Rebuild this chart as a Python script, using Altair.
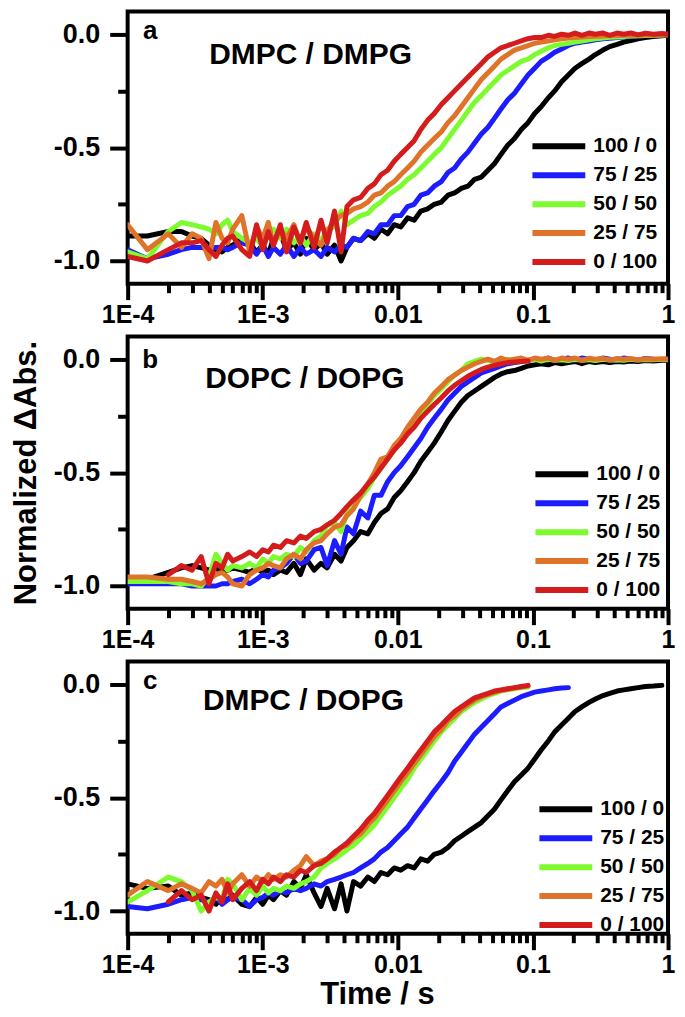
import altair as alt
import pandas as pd

# ---------------- data ----------------
TIME_S = [1.0e-4, 1.4e-4, 2.0e-4, 2.5e-4, 3.0e-4, 3.5e-4, 4.0e-4, 4.5e-4, 5.0e-4, 5.5e-4,
          6.0e-4, 7.0e-4, 8.0e-4, 9.0e-4, 1.0e-3, 1.1e-3, 1.2e-3, 1.35e-3, 1.5e-3, 1.7e-3,
          1.9e-3, 2.1e-3, 2.4e-3, 2.7e-3, 3.0e-3, 3.4e-3, 3.8e-3, 4.2e-3, 4.7e-3, 5.3e-3,
          6.0e-3, 6.7e-3, 7.5e-3, 8.4e-3, 9.4e-3, 0.0105, 0.0118, 0.0132, 0.0148, 0.0166,
          0.0186, 0.021, 0.0235, 0.0263, 0.0295, 0.033, 0.037, 0.0415, 0.0465, 0.052,
          0.058, 0.065, 0.073, 0.082, 0.092, 0.103, 0.115, 0.13, 0.145, 0.163,
          0.183, 0.205, 0.23, 0.26, 0.29, 0.33, 0.37, 0.42, 0.47, 0.53,
          0.6, 0.68, 0.78, 0.9, 1.0]

N = None

# Panel a: DMPC / DMPG
A_100_0 = [-0.89, -0.89, -0.87, -0.87, -0.89, -0.90, -0.93, -0.95, -0.96, -0.94,
           -0.93, -0.90, -0.92, -0.96, -0.93, -0.97, -0.90, -0.88, -0.95, -0.92,
           -0.97, -0.90, -0.95, -0.92, -0.97, -0.93, -1.00, -0.94, -0.90, -0.91,
           -0.88, -0.90, -0.86, -0.88, -0.84, -0.85, -0.81, -0.82, -0.78, -0.77,
           -0.75, -0.74, -0.71, -0.70, -0.68, -0.67, -0.64, -0.63, -0.60, -0.57,
           -0.53, -0.49, -0.46, -0.42, -0.39, -0.35, -0.32, -0.28, -0.25, -0.21,
           -0.18, -0.15, -0.13, -0.11, -0.09, -0.07, -0.055, -0.045, -0.035, -0.028,
           -0.02, -0.015, -0.01, -0.007, -0.005]
A_75_25 = [-0.95, -0.99, -0.97, -0.95, -0.94, -0.94, -0.95, -0.94, -0.94, -0.95,
           -0.94, -0.92, -0.93, -0.97, -0.93, -0.98, -0.94, -0.97, -0.93, -0.98,
           -0.94, -0.97, -0.95, -0.98, -0.94, -0.96, -0.93, -0.94, -0.90, -0.91,
           -0.87, -0.88, -0.84, -0.84, -0.80, -0.80, -0.76, -0.75, -0.71, -0.70,
           -0.67, -0.65, -0.61, -0.59, -0.55, -0.52, -0.48, -0.44, -0.41, -0.37,
           -0.33, -0.29, -0.26, -0.22, -0.18, -0.15, -0.12, -0.10, -0.08, -0.065,
           -0.05, -0.04, -0.035, -0.03, -0.025, -0.02, -0.018, -0.015, -0.012, -0.01,
           -0.008, -0.006, -0.005, -0.004, -0.003]
A_50_50 = [-0.96, -0.99, -0.87, -0.83, -0.84, -0.85, -0.86, -0.88, -0.84, -0.82,
           -0.87, -0.90, -0.92, -0.90, -0.94, -0.88, -0.86, -0.90, -0.86, -0.92,
           -0.89, -0.93, -0.88, -0.91, -0.86, -0.85, -0.78, -0.84, -0.82, -0.80,
           -0.79, -0.76, -0.74, -0.71, -0.69, -0.67, -0.64, -0.62, -0.59, -0.56,
           -0.53, -0.50, -0.46, -0.42, -0.38, -0.34, -0.30, -0.27, -0.24, -0.21,
           -0.18, -0.16, -0.14, -0.12, -0.11, -0.09, -0.075, -0.06, -0.05, -0.045,
           -0.04, -0.035, -0.03, -0.025, -0.02, -0.017, -0.014, -0.012, -0.01, -0.008,
           -0.007, -0.006, -0.005, -0.004, -0.003]
A_25_75 = [-0.84, -0.95, -0.88, -0.94, -0.88, -0.90, -0.99, -0.83, -0.90, -0.92,
           -0.86, -0.80, -0.96, -0.85, -0.90, -0.83, -0.93, -0.86, -0.90, -0.84,
           -0.92, -0.85, -0.90, -0.93, -0.87, -0.82, -0.80, -0.79, -0.77, -0.76,
           -0.74, -0.71, -0.70, -0.67, -0.65, -0.62, -0.59, -0.56, -0.52, -0.49,
           -0.46, -0.43, -0.39, -0.36, -0.32, -0.28, -0.24, -0.20, -0.17, -0.14,
           -0.11, -0.09, -0.07, -0.06, -0.05, -0.04, -0.035, -0.03, -0.025, -0.02,
           -0.017, -0.015, -0.012, -0.01, -0.009, -0.008, -0.007, -0.006, -0.005, -0.005,
           -0.004, -0.004, -0.003, -0.003, -0.002]
A_0_100 = [-0.98, -1.00, -0.95, -0.92, -0.92, -0.91, -0.95, -0.98, -0.93, -0.90,
           -0.89, -0.95, -0.98, -0.84, -0.95, -0.87, -0.93, -0.84, -0.96, -0.85,
           -0.92, -0.83, -0.94, -0.82, -0.92, -0.78, -0.96, -0.76, -0.73, -0.72,
           -0.68, -0.66, -0.62, -0.60, -0.56, -0.53, -0.50, -0.47, -0.42, -0.38,
           -0.35, -0.31, -0.28, -0.25, -0.22, -0.19, -0.16, -0.13, -0.10, -0.08,
           -0.06, -0.05, -0.04, -0.03, -0.02, -0.015, -0.015, -0.005, -0.01, 0.0,
           -0.005, 0.005, -0.005, 0.005, 0.0, 0.005, -0.005, 0.005, 0.0, 0.005,
           -0.003, 0.004, 0.0, 0.003, 0.0]

# Panel b: DOPC / DOPG
B_100_0 = [-0.97, -0.97, -0.94, -0.92, -0.91, -0.92, -0.93, -0.92, -0.94, -0.93,
           -0.92, -0.93, -0.94, -0.92, -0.94, -0.93, -0.95, -0.93, -0.94, -0.90,
           -0.95, -0.88, -0.93, -0.90, -0.92, -0.86, -0.89, -0.83, -0.80, -0.76,
           -0.77, -0.72, -0.68, -0.66, -0.61, -0.58, -0.54, -0.50, -0.45, -0.41,
           -0.37, -0.32, -0.27, -0.23, -0.19, -0.16, -0.14, -0.12, -0.10, -0.08,
           -0.065, -0.055, -0.05, -0.04, -0.03, -0.025, -0.02, -0.025, -0.015, -0.02,
           -0.015, -0.01, -0.02, -0.01, -0.015, -0.01, -0.015, -0.01, -0.012, -0.008,
           -0.01, -0.006, -0.008, -0.005, -0.005]
B_75_25 = [-0.99, -0.99, -0.99, -0.99, -1.00, -1.00, -1.00, -1.00, -0.99, -0.99,
           -0.98, -0.97, -0.99, -0.97, -0.95, -0.96, -0.93, -0.92, -0.90, -0.86,
           -0.90, -0.89, -0.84, -0.83, -0.91, -0.80, -0.86, -0.74, -0.77, -0.67,
           -0.70, -0.60, -0.60, -0.54, -0.50, -0.47, -0.43, -0.39, -0.35, -0.30,
           -0.26, -0.22, -0.18, -0.15, -0.12, -0.10, -0.08, -0.06, -0.05, -0.04,
           -0.03, -0.02, -0.015, -0.01, -0.005, 0.0, -0.005, 0.005, -0.005, 0.0,
           0.005, -0.005, 0.005, 0.0, -0.005, 0.005, 0.0, -0.005, 0.005, 0.0,
           -0.004, 0.003, 0.0, -0.003, 0.002]
B_50_50 = [-0.98, -0.98, -0.98, -0.99, -0.99, -1.00, -0.96, -0.86, -0.90, -0.93,
           -0.91, -0.92, -0.90, -0.92, -0.88, -0.90, -0.87, -0.88, -0.86, -0.87,
           -0.83, -0.85, -0.80, -0.78, -0.73, -0.72, -0.76, -0.68, -0.65, -0.61,
           -0.57, -0.52, -0.48, -0.44, -0.40, -0.36, -0.32, -0.28, -0.24, -0.20,
           -0.16, -0.13, -0.10, -0.07, -0.05, -0.02, -0.01, 0.0, -0.005, -0.015,
           -0.005, 0.0, -0.01, 0.0, -0.005, 0.0, -0.008, 0.0, -0.005, -0.002,
           -0.006, 0.0, -0.005, -0.002, -0.006, 0.0, -0.004, -0.002, -0.005, 0.0,
           -0.004, -0.001, -0.003, 0.0, -0.002]
B_25_75 = [-0.96, -0.96, -0.97, -0.97, -0.98, -0.99, -0.97, -0.95, -0.94, -0.96,
           -0.99, -1.00, -0.95, -0.93, -0.92, -0.90, -0.91, -0.92, -0.88, -0.86,
           -0.88, -0.84, -0.81, -0.80, -0.77, -0.74, -0.73, -0.69, -0.66, -0.60,
           -0.55, -0.50, -0.44, -0.43, -0.38, -0.35, -0.30, -0.26, -0.22, -0.19,
           -0.15, -0.12, -0.09, -0.07, -0.05, -0.035, -0.02, -0.01, 0.0, -0.01,
           0.005, -0.005, 0.0, 0.005, -0.005, 0.005, 0.0, 0.005, -0.005, 0.005,
           0.0, 0.005, -0.005, 0.004, 0.0, 0.004, -0.004, 0.003, 0.0, 0.003,
           -0.003, 0.002, 0.0, 0.002, 0.0]
B_0_100 = [N, N, -0.95, -0.91, -0.93, -0.87, -0.99, -0.90, -0.92, -0.86,
           -0.89, -0.87, -0.85, -0.87, -0.84, -0.85, -0.82, -0.83, -0.80, -0.81,
           -0.78, -0.79, -0.76, -0.75, -0.73, -0.71, -0.68, -0.65, -0.62, -0.59,
           -0.55, -0.52, -0.48, -0.44, -0.40, -0.37, -0.33, -0.30, -0.26, -0.23,
           -0.20, -0.17, -0.14, -0.115, -0.095, -0.075, -0.06, -0.045, -0.035, -0.027,
           -0.02, -0.015, -0.012, -0.01, -0.008, N, N, N, N, N,
           N, N, N, N, N, N, N, N, N, N,
           N, N, N, N, N]

# Panel c: DMPC / DOPG
C_100_0 = [-0.88, -0.90, -0.89, -0.93, -0.92, -0.94, -0.95, -0.97, -0.94, -0.95,
           -0.93, -0.97, -0.98, -0.94, -0.97, -0.93, -0.95, -0.91, -0.93, -0.87,
           -0.90, -0.84, -0.92, -0.98, -0.90, -0.99, -0.88, -1.00, -0.87, -0.89,
           -0.85, -0.87, -0.83, -0.84, -0.81, -0.82, -0.80, -0.81, -0.77, -0.78,
           -0.75, -0.74, -0.72, -0.69, -0.67, -0.65, -0.63, -0.61, -0.58, -0.55,
           -0.51, -0.47, -0.43, -0.40, -0.37, -0.33, -0.29, -0.25, -0.21, -0.18,
           -0.15, -0.12, -0.10, -0.08, -0.065, -0.05, -0.04, -0.03, -0.025, -0.02,
           -0.015, -0.01, -0.008, -0.005, N]
C_75_25 = [-0.98, -0.99, -0.97, -0.95, -0.94, -0.95, -0.96, -0.94, -0.97, -0.95,
           -0.94, -0.95, -0.98, -0.95, -0.94, -0.92, -0.93, -0.91, -0.92, -0.90,
           -0.91, -0.90, -0.88, -0.89, -0.87, -0.86, -0.85, -0.84, -0.83, -0.81,
           -0.79, -0.77, -0.74, -0.72, -0.69, -0.66, -0.63, -0.59, -0.55, -0.51,
           -0.47, -0.43, -0.39, -0.34, -0.30, -0.26, -0.22, -0.19, -0.16, -0.13,
           -0.10, -0.085, -0.07, -0.055, -0.045, -0.035, -0.03, -0.025, -0.02, -0.017,
           -0.015, N, N, N, N, N, N, N, N, N,
           N, N, N, N, N]
C_50_50 = [-0.96, -0.91, -0.85, -0.87, -0.91, -1.00, -0.96, -0.94, -0.95, -0.86,
           -0.88, -0.95, -0.90, -0.93, -0.89, -0.92, -0.90, -0.91, -0.89, -0.90,
           -0.88, -0.87, -0.85, -0.81, -0.79, -0.77, -0.75, -0.73, -0.71, -0.68,
           -0.65, -0.62, -0.58, -0.54, -0.50, -0.46, -0.42, -0.37, -0.33, -0.29,
           -0.25, -0.21, -0.18, -0.15, -0.12, -0.10, -0.08, -0.065, -0.05, -0.04,
           -0.03, -0.025, -0.02, -0.015, -0.012, N, N, N, N, N,
           N, N, N, N, N, N, N, N, N, N,
           N, N, N, N, N]
C_25_75 = [-0.93, -0.87, -0.91, -0.88, -0.90, -0.92, -0.87, -0.89, -0.86, -0.92,
           -0.88, -0.84, -0.89, -0.85, -0.87, -0.84, -0.86, -0.84, -0.85, -0.82,
           -0.80, -0.76, -0.80, -0.78, -0.77, -0.75, -0.72, -0.71, -0.68, -0.66,
           -0.62, -0.59, -0.55, -0.51, -0.47, -0.43, -0.39, -0.35, -0.31, -0.27,
           -0.23, -0.20, -0.16, -0.14, -0.11, -0.09, -0.07, -0.055, -0.045, -0.035,
           -0.028, -0.022, -0.017, -0.012, -0.008, N, N, N, N, N,
           N, N, N, N, N, N, N, N, N, N,
           N, N, N, N, N]
C_0_100 = [N, N, -0.96, -0.91, -0.95, -0.93, -1.00, -0.92, -0.96, -0.88,
           -0.95, -0.90, -0.87, -0.91, -0.86, -0.88, -0.85, -0.87, -0.84, -0.85,
           -0.82, -0.83, -0.80, -0.79, -0.77, -0.74, -0.72, -0.70, -0.67, -0.64,
           -0.60, -0.57, -0.53, -0.49, -0.45, -0.41, -0.37, -0.33, -0.29, -0.25,
           -0.21, -0.18, -0.15, -0.12, -0.10, -0.08, -0.06, -0.05, -0.04, -0.03,
           -0.025, -0.02, -0.015, -0.01, -0.005, N, N, N, N, N,
           N, N, N, N, N, N, N, N, N, N,
           N, N, N, N, N]

RATIOS = ["100 / 0", "75 / 25", "50 / 50", "25 / 75", "0 / 100"]
COLORS = ["#000000", "#1c1cff", "#7dfb2f", "#e0732a", "#d41c1c"]

PANEL_LETTERS = ["a", "b", "c"]
PANEL_NAMES = ["DMPC / DMPG", "DOPC / DOPG", "DMPC / DOPG"]
PANEL_SERIES = [
    [A_100_0, A_75_25, A_50_50, A_25_75, A_0_100],
    [B_100_0, B_75_25, B_50_50, B_25_75, B_0_100],
    [C_100_0, C_75_25, C_50_50, C_25_75, C_0_100],
]
# annotation anchors in data units (time s, normalized value)
LETTER_T = [1.47e-4, 1.47e-4, 1.47e-4]
LETTER_V = [-0.022, -0.04, -0.022]
NAME_T = [2.26e-3, 2.05e-3, 2.0e-3]
NAME_V = [-0.13, -0.125, -0.113]

# ---------------- styling ----------------
FONT = "Liberation Sans"
W, H = 542, 273
LEGEND_XY = [(403, 121), (406, 124), (410, 134)]
PAD = {"left": 0, "top": 0, "right": 0, "bottom": 0}

X_TICKS = [m * 10.0 ** e for e in range(-4, 0) for m in range(1, 10)] + [1.0]
X_LABELS = ("abs(datum.value-0.0001)<1e-9 ? '1E-4' : abs(datum.value-0.001)<1e-8 ? '1E-3' : "
            "abs(datum.value-0.01)<1e-7 ? '0.01' : abs(datum.value-0.1)<1e-6 ? '0.1' : "
            "abs(datum.value-1)<1e-5 ? '1' : ''")
X_MAJOR = "abs(log(datum.value)/LN10 - round(log(datum.value)/LN10)) < 0.001"
Y_TICKS = [-1.0, -0.75, -0.5, -0.25, 0.0]
Y_LABELS = ("datum.value == 0 ? '0.0' : datum.value == -0.5 ? '-0.5' : "
            "datum.value == -1 ? '-1.0' : ''")
Y_MAJOR = "datum.value == 0 || datum.value == -0.5 || datum.value == -1"


def x_enc(title):
    kw = dict(values=X_TICKS, labelExpr=X_LABELS,
              tickSize={"condition": {"test": X_MAJOR, "value": 16}, "value": 9},
              labelFontSize=25, labelPadding=3, labelOverlap=False, labelFlush=False,
              titleFontSize=31, titlePadding=2, title=title)
    if title:
        kw["titleX"] = 250
    return alt.X("t:Q", scale=alt.Scale(type="log", domain=[1e-4, 1], nice=False),
                 axis=alt.Axis(**kw))


def y_enc(title):
    return alt.Y("v:Q", scale=alt.Scale(domain=[-1.1, 0.1], nice=False, zero=False),
                 axis=alt.Axis(values=Y_TICKS, labelExpr=Y_LABELS,
                               tickSize={"condition": {"test": Y_MAJOR, "value": 18}, "value": 10},
                               labelFontSize=27, labelPadding=10, labelOverlap=False,
                               labelFlush=False, titleFontSize=31, titlePadding=11,
                               title=title))


def panel(i):
    rows = []
    for ratio, vals in zip(RATIOS, PANEL_SERIES[i]):
        for t, v in zip(TIME_S, vals):
            if v is not None:
                rows.append({"t": t, "v": v, "ratio": ratio})
    df = pd.DataFrame(rows)
    xe = x_enc("Time / s" if i == 2 else None)
    ye = y_enc("Normalized ΔAbs." if i == 1 else None)
    lx, ly = LEGEND_XY[i]
    color = alt.Color(
        "ratio:N",
        scale=alt.Scale(domain=RATIOS, range=COLORS),
        legend=alt.Legend(orient="none", legendX=lx, legendY=ly, title=None,
                          symbolType="stroke", symbolSize=2809, symbolStrokeWidth=6,
                          clipHeight=28.5, rowPadding=0, padding=0,
                          labelFont=FONT, labelFontSize=21, labelFontWeight="bold",
                          labelColor="black", labelOffset=5),
    )
    layers = []
    for r in RATIOS:
        layers.append(
            alt.Chart(df).transform_filter(alt.datum.ratio == r)
            .mark_line(strokeWidth=5, strokeJoin="round", strokeCap="round", clip=True)
            .encode(x=xe, y=ye, color=color)
        )
    letter_df = pd.DataFrame({"t": [LETTER_T[i]], "v": [LETTER_V[i]], "txt": [PANEL_LETTERS[i]]})
    name_df = pd.DataFrame({"t": [NAME_T[i]], "v": [NAME_V[i]], "txt": [PANEL_NAMES[i]]})
    layers.append(
        alt.Chart(letter_df).mark_text(font=FONT, fontWeight="bold", fontSize=26,
                                       align="center", baseline="alphabetic", color="black")
        .encode(x=xe, y=ye, text="txt:N")
    )
    layers.append(
        alt.Chart(name_df).mark_text(font=FONT, fontWeight="bold", fontSize=30,
                                     align="center", baseline="alphabetic", color="black")
        .encode(x=xe, y=ye, text="txt:N")
    )
    return alt.layer(*layers).properties(width=W, height=H)


chart = (
    alt.vconcat(panel(0), panel(1), panel(2), spacing=5)
    .resolve_scale(x="independent", y="independent", color="independent")
    .properties(padding=PAD)
    .configure(padding=PAD)
    .configure_view(stroke="black", strokeWidth=4)
    .configure_axis(labelFont=FONT, labelFontWeight="bold", labelColor="black",
                    titleFont=FONT, titleFontWeight="bold", titleColor="black",
                    tickColor="black", tickWidth=4, domain=False, grid=False)
)

chart.save("out.html", embed_options={"renderer": "svg", "actions": False})
